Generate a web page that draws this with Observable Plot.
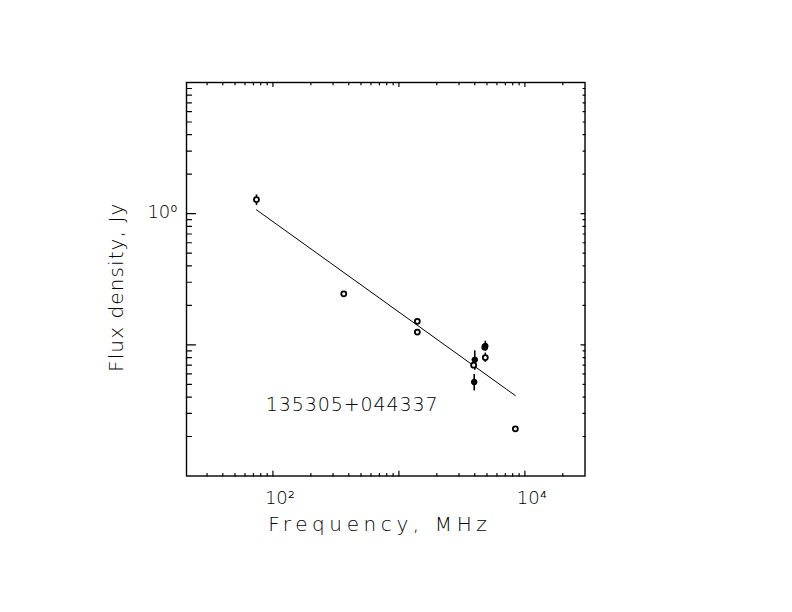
<!DOCTYPE html>
<html>
<head>
<meta charset="utf-8">
<script src="https://cdn.jsdelivr.net/npm/d3@7"></script>
<script src="https://cdn.jsdelivr.net/npm/@observablehq/plot@0.6"></script>
<style>
  html, body { margin: 0; padding: 0; background: #fff; }
  svg { display: block; }
</style>
</head>
<body>
<div id="chart"></div>
<script>
// Measurements (frequency in MHz, flux density in Jy)
const freq   = [74,   365,   1400,  1400,  3920,  4000,  3960,  4850,  4800,  4850,  8400];
const flux   = [1.28, 0.245, 0.151, 0.125, 0.070, 0.077, 0.052, 0.098, 0.096, 0.080, 0.0229];
const errLo  = [1.156,null,  null,  null,  null,  0.064, 0.0445,0.0895,null,  0.0735,null];
const errHi  = [1.39, null,  null,  null,  null,  0.090, 0.0595,0.1065,null,  0.0866,null];
const filled = [false,false, false, false, false, true,  true,  true,  false, false, false];

// Power-law fit line end points
const fitFreq = [74, 8400];
const fitFlux = [1.07, 0.041];

// Axis ticks
const xMajor = [100, 1000, 10000];
const xMinor = [30,40,50,60,70,80,90, 200,300,400,500,600,700,800,900,
                2000,3000,4000,5000,6000,7000,8000,9000, 20000];
const yMajor = [0.1, 1];
const yMinor = [0.02,0.03,0.04,0.05,0.06,0.07,0.08,0.09,
                0.2,0.3,0.4,0.5,0.6,0.7,0.8,0.9,
                2,3,4,5,6,7,8,9];
const xLabelVals = [100, 10000];
const xLabelText = ["10²", "10⁴"];
const yLabelVals = [1];
const yLabelText = ["10⁰"];

const sourceName = "135305+044337";
const xTitle = "Frequency, MHz";
const yTitle = "Flux density, Jy";

const pts = freq.map((f, i) => ({f, s: flux[i], lo: errLo[i], hi: errHi[i], filled: filled[i]}));
const bars = pts.filter(d => d.lo != null);
const fit = fitFreq.map((f, i) => ({f, s: fitFlux[i]}));

const tickShape = {draw(ctx, l) { ctx.moveTo(0, 0); ctx.lineTo(0, -l); }};
const FONT = "DejaVu Sans";

function ticksX(vals, anchor, len) {
  return Plot.vector(vals, {x: d => d, frameAnchor: anchor, length: len,
    rotate: anchor === "bottom" ? 0 : 180, anchor: "start", shape: tickShape,
    stroke: "black", strokeWidth: 1.2});
}
function ticksY(vals, anchor, len) {
  return Plot.vector(vals, {y: d => d, frameAnchor: anchor, length: len,
    rotate: anchor === "left" ? 90 : -90, anchor: "start", shape: tickShape,
    stroke: "black", strokeWidth: 1.2});
}

const chart = Plot.plot({
  width: 792,
  height: 612,
  marginLeft: 186,
  marginRight: 207.5,
  marginTop: 82,
  marginBottom: 136.5,
  style: {fontFamily: FONT, background: "white"},
  x: {type: "log", domain: [20.6, 30000], axis: null},
  y: {type: "log", domain: [0.01, 10], axis: null},
  marks: [
    Plot.frame({stroke: "black", strokeWidth: 1.4}),
    ticksX(xMajor, "bottom", 5), ticksX(xMinor, "bottom", 2.5),
    ticksX(xMajor, "top", 4),    ticksX(xMinor, "top", 2.3),
    ticksY(yMajor, "left", 9),   ticksY(yMinor, "left", 5),
    ticksY(yMajor, "right", 4),  ticksY(yMinor, "right", 2),
    Plot.text(xLabelVals, {x: d => d, text: (d, i) => xLabelText[i], frameAnchor: "bottom",
      dy: 28, dx: 7, lineAnchor: "bottom", textAnchor: "middle", fontSize: 18, fill: "black", fontWeight: 300}),
    Plot.text(yLabelVals, {y: d => d, text: (d, i) => yLabelText[i], frameAnchor: "left",
      dx: -9, dy: 4.5, lineAnchor: "bottom", fontSize: 18, fill: "black", fontWeight: 300,
      textAnchor: "end"}),
    Plot.text([xTitle], {text: d => d, frameAnchor: "bottom", dy: 54.5, dx: -6, lineAnchor: "bottom",
      textAnchor: "middle", fontSize: 20, fill: "black", fontWeight: 300}),
    Plot.text([yTitle], {text: d => d, frameAnchor: "left", dx: -64, dy: 8, rotate: -90, lineAnchor: "bottom",
      textAnchor: "middle", fontSize: 20, fill: "black", fontWeight: 300}),
    Plot.text([sourceName], {x: () => 425, y: () => 0.0313, text: d => d, lineAnchor: "bottom",
      textAnchor: "middle", fontSize: 19, fill: "black", fontWeight: 300}),
    Plot.line(fit, {x: "f", y: "s", stroke: "black", strokeWidth: 1}),
    Plot.ruleX(bars, {x: "f", y1: "lo", y2: "hi", stroke: "black", strokeWidth: 1.6}),
    Plot.dot(pts.filter(d => !d.filled), {x: "f", y: "s", r: 2.5, stroke: "black", strokeWidth: 1.8, fill: "white"}),
    Plot.dot(pts.filter(d => d.filled), {x: "f", y: "s", r: 2.8, stroke: "black", strokeWidth: 1, fill: "black"})
  ]
});
// letter spacing to mimic the wide plotter font
const spacing = {[xTitle]: "4.6px", [yTitle]: "1.1px", [sourceName]: "0.9px"};
d3.select(chart).selectAll("text").each(function() {
  const s = spacing[this.textContent];
  if (s) this.setAttribute("letter-spacing", s);
});
document.getElementById("chart").appendChild(chart);
</script>
</body>
</html>
